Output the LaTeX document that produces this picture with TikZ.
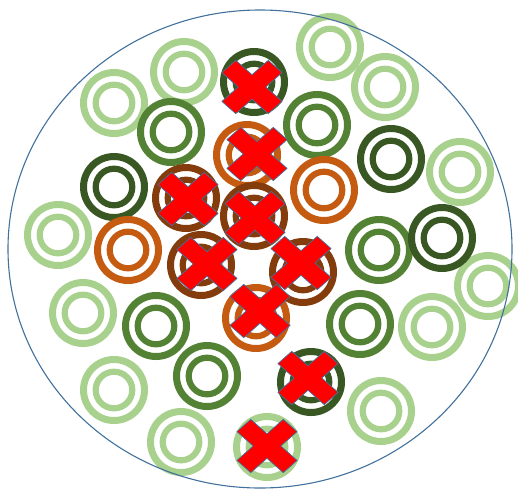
\documentclass[tikz,border=0pt]{standalone}
\definecolor{lg}{HTML}{A9D18E}
\definecolor{mg}{HTML}{548235}
\definecolor{dg}{HTML}{385723}
\definecolor{orng}{HTML}{C55A11}
\definecolor{brwn}{HTML}{843C0C}
\definecolor{xred}{HTML}{FF0000}
\definecolor{edge}{HTML}{41719C}
\tikzset{
  ring/.pic={
    \draw[line width=7pt] (0,0) circle[radius=30.5pt];
    \draw[line width=6.2pt] (0,0) circle[radius=18.3pt];
  },
  xmark/.pic={
    \filldraw[fill=xred, draw=edge, line width=0.7pt, line join=miter, xscale=1.05, yscale=0.93, rotate=45]
      (9.3,31.2) -- (9.3,9.3) -- (31.2,9.3) -- (31.2,-9.3) -- (9.3,-9.3) -- (9.3,-31.2)
      -- (-9.3,-31.2) -- (-9.3,-9.3) -- (-31.2,-9.3) -- (-31.2,9.3) -- (-9.3,9.3) -- (-9.3,31.2) -- cycle;
  },
  outline/.style={draw=edge, line width=1.1pt}
}
\begin{document}
\begin{tikzpicture}[x=1pt,y=-1pt]
\useasboundingbox (0,0) rectangle (518,490);
% light green rings
\foreach \p in {(330,47),(184,72),(385,87),(114,103),(460,172),(58,235),(488,286),(83,313),(432,327),(114,390),(381,411),(181,442),(267,447)}
  \pic[color=lg] at \p {ring};
% mid green rings
\foreach \p in {(171,132),(317,125),(379,250),(156,326),(360,324),(207,376)}
  \pic[color=mg] at \p {ring};
% dark green rings
\foreach \p in {(254,82),(391,159),(114,187),(442,238),(311,382)}
  \pic[color=dg] at \p {ring};
% orange rings
\foreach \p in {(247,155),(324,190),(128,250),(256,318)}
  \pic[color=orng] at \p {ring};
% brown rings
\foreach \p in {(186,198),(254,216),(201,265),(303,272)}
  \pic[color=brwn] at \p {ring};
% enclosing circle
\draw[outline] (260,249) ellipse[x radius=252pt, y radius=239pt];
% crosses
\foreach \p in {(252,87),(257,154),(188,199),(255,218),(207,264),(301,263),(260,311),(308,378),(267,446)}
  \pic at \p {xmark};
\end{tikzpicture}
\end{document}
